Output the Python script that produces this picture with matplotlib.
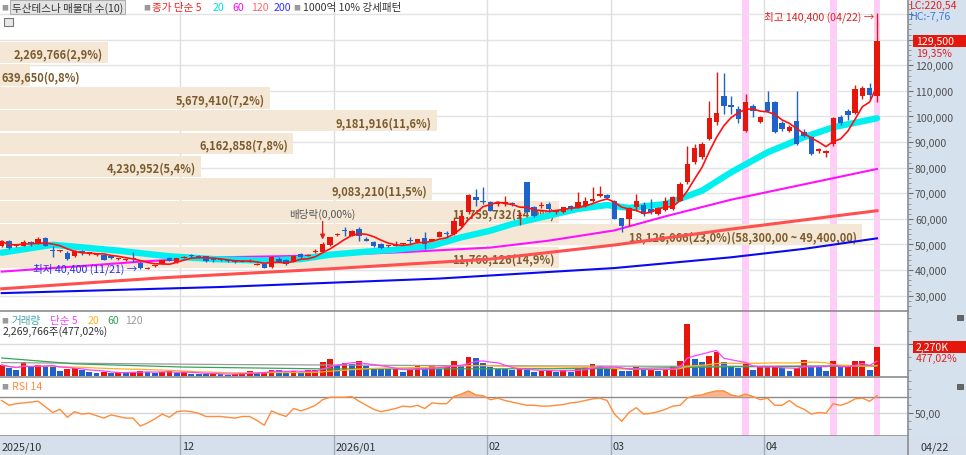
import numpy as np
import pandas as pd
import matplotlib
matplotlib.use("Agg")
import matplotlib.pyplot as plt
import matplotlib.transforms as mtransforms
from matplotlib.patches import Rectangle
from matplotlib.ticker import FixedLocator, MultipleLocator, FuncFormatter

plt.rcParams['font.family'] = ['Noto Sans CJK KR', 'DejaVu Sans']

# ---------------- data ----------------
holidays = ['2025-12-25', '2025-12-31', '2026-01-01', '2026-02-16',
            '2026-02-17', '2026-02-18', '2026-03-02']
trade_dates = pd.bdate_range('2025-10-27', '2026-04-22')
trade_dates = trade_dates[~trade_dates.isin(pd.to_datetime(holidays))]

open_ = [49300, 51500, 49500, 49500, 50700, 50200, 52400, 47700, 47700, 46700,
         45600, 47300, 46300, 46000, 45900, 45400, 44300, 43800, 44400, 42900,
         40700, 41500, 42400, 44600, 43000, 44900, 45700, 45600, 45400, 44000,
         44000, 43700, 43400, 43400, 43400, 42100, 42300, 41200, 44400, 44100,
         43300, 46300, 45700, 47100, 47200, 49800, 53800, 55600, 53500, 56000,
         52200, 50900, 50200, 49400, 49600, 50100, 51600, 51100, 52400, 51500,
         53100, 54200, 54100, 57300, 62600, 68400, 67100, 66500, 65700, 66300,
         66000, 61000, 74300, 64500, 65200, 65800, 62600, 62800, 64900, 64500,
         64900, 67100, 69100, 69300, 67100, 60200, 60000, 64500, 65400, 63900,
         61900, 63600, 63900, 67100, 74300, 82100, 84100, 91200, 98000, 107900,
         104500, 102900, 94500, 104200, 98000, 105500, 105500, 97500, 94500, 98400,
         93800, 91900, 86400, 85700, 89300, 99700, 102300, 101500, 107900, 111000,
         108000]
high = [51900, 51900, 50000, 51900, 51500, 53000, 52800, 49500, 48000, 47600,
        48000, 48000, 47000, 46700, 46300, 45800, 44900, 44400, 47200, 43100,
        41200, 42100, 44100, 45000, 44900, 45500, 46300, 45800, 45600, 44600,
        44400, 44200, 43900, 43800, 44200, 42600, 42600, 45500, 45000, 44400,
        46000, 46500, 46400, 48200, 50800, 53000, 54600, 56700, 55800, 56700,
        52800, 51300, 50500, 49900, 51500, 50600, 52800, 52300, 54800, 52200,
        55200, 55400, 60200, 62600, 69700, 71700, 72300, 67000, 66500, 69000,
        66600, 62500, 74400, 65000, 66500, 66700, 63500, 64800, 65300, 70400,
        68400, 72300, 73000, 69800, 67500, 60500, 64800, 69700, 66500, 67800,
        64500, 68400, 69000, 74300, 88600, 89300, 90000, 106200, 117300, 117000,
        108000, 104200, 108800, 104800, 100000, 110100, 106000, 98200, 96500, 110000,
        95000, 92500, 87800, 87000, 99800, 100600, 102900, 112300, 112000, 113000,
        140400]
low = [48900, 48200, 49200, 49300, 49500, 50000, 49300, 45000, 46900, 44000,
       45000, 46000, 46000, 45700, 44000, 44300, 44000, 43500, 43300, 40400,
       40500, 41300, 42200, 43400, 42800, 44700, 44600, 44900, 43300, 43300,
       43400, 43200, 42900, 43000, 43100, 41900, 40700, 41000, 43100, 42000,
       43000, 44800, 45500, 46800, 47000, 49500, 53300, 53400, 53200, 51500,
       51200, 49200, 48200, 49000, 49300, 49800, 50200, 50600, 48200, 51200,
       52800, 52800, 53800, 57000, 61800, 65200, 65800, 62900, 65000, 65200,
       65000, 57500, 62300, 60800, 64100, 62800, 62000, 62400, 63500, 64100,
       64600, 66500, 68400, 67800, 59900, 54700, 57400, 63200, 61300, 62000,
       61500, 63200, 63500, 66800, 73700, 81500, 83500, 90800, 96500, 101000,
       101000, 97500, 94000, 99700, 97500, 101800, 93500, 94500, 94000, 89000,
       92000, 84800, 85800, 84000, 88600, 96800, 98500, 100800, 107000, 107000,
       105500]
close = [51200, 48600, 49800, 51100, 50500, 52200, 49500, 47500, 47900, 44300,
         47600, 46500, 46900, 46600, 44100, 44600, 44700, 44200, 44300, 40900,
         40900, 42000, 44000, 43600, 44700, 45300, 45600, 45100, 43500, 43900,
         43900, 43600, 43300, 43200, 43600, 42300, 40900, 45000, 43300, 42300,
         45600, 45000, 45900, 47300, 50200, 52800, 54100, 55300, 55400, 53500,
         51500, 49600, 48500, 49600, 50200, 50300, 51400, 52000, 50200, 52100,
         54700, 54100, 59300, 61300, 69300, 67500, 66500, 63200, 66300, 66500,
         65700, 61300, 62600, 61300, 65500, 63900, 63200, 64500, 63900, 66500,
         67100, 67800, 69700, 68000, 60000, 57400, 64100, 67100, 61900, 62600,
         64100, 67100, 68400, 73600, 81400, 87600, 89300, 99300, 101400, 104200,
         103600, 99000, 105800, 102300, 99700, 102300, 93800, 95000, 95800, 89300,
         92500, 85400, 87300, 86600, 99300, 97500, 100600, 110700, 111000, 108500,
         129500]
volume = [860000, 630000, 500000, 1070000, 680000, 890000, 760000, 730000, 420000, 550000,
          600000, 500000, 290000, 230000, 340000, 230000, 290000, 230000, 340000, 420000,
          290000, 230000, 340000, 360000, 230000, 340000, 160000, 150000, 140000, 230000,
          160000, 80000, 160000, 230000, 420000, 230000, 340000, 500000, 470000, 230000,
          420000, 230000, 470000, 480000, 1070000, 1330000, 860000, 1000000, 940000, 1150000,
          810000, 580000, 550000, 520000, 550000, 340000, 550000, 810000, 550000, 810000,
          550000, 810000, 1200000, 810000, 1460000, 1410000, 1020000, 730000, 550000, 540000,
          500000, 520000, 470000, 340000, 420000, 450000, 340000, 500000, 340000, 600000,
          680000, 940000, 760000, 520000, 570000, 420000, 400000, 680000, 500000, 520000,
          420000, 450000, 810000, 1200000, 4100000, 1330000, 1120000, 1590000, 1850000, 1070000,
          730000, 600000, 1020000, 500000, 680000, 700000, 720000, 600000, 420000, 600000,
          1280000, 680000, 670000, 420000, 1200000, 680000, 700000, 1150000, 1180000, 475822,
          2269766]
rsi14 = [66, 60, 62, 63, 64, 65, 58, 51, 55, 45,
         52, 49, 50, 47, 44, 48, 46, 44, 44, 34,
         38, 43, 49, 45, 52, 53, 52, 50, 46, 46,
         46, 45, 44, 46, 46, 41, 35, 53, 49, 46,
         56, 53, 56, 60, 67, 70, 70, 70, 71, 65,
         60, 55, 52, 54, 56, 59, 58, 60, 56, 63,
         62, 62, 71, 74, 78, 73, 72, 67, 69, 66,
         64, 62, 60, 60, 59, 59, 60, 61, 63, 64,
         66, 68, 69, 66, 49, 40, 51, 57, 49, 50,
         52, 55, 59, 60, 69, 72, 73, 76, 78, 78,
         73, 71, 74, 71, 67, 69, 60, 60, 66, 59,
         55, 49, 51, 50, 62, 60, 63, 68, 69, 65,
         72]

# moving averages (candle index, value)
ma20_idx = [0, 7, 11, 16, 20, 23, 29, 36, 41, 45, 50, 54, 59, 63, 67, 70, 75, 79, 83, 86, 91, 96, 100, 105, 110, 114, 120]
ma20_val = [46800, 49900, 48900, 47600, 46300, 45400, 44300, 43700, 44300, 46000, 47200, 48000, 49500, 52800,
            55400, 58000, 61300, 63900, 65400, 64300, 65800, 71000, 78200, 86000, 91900, 95800, 99300]
ma60_idx = [0, 10, 20, 30, 40, 45, 55, 67, 75, 84, 91, 100, 110, 120]
ma60_val = [39400, 41400, 43500, 45000, 45500, 45900, 47000, 48800, 51500, 55500, 61000, 67500, 73500, 79500]
ma120_idx = [0, 22, 45, 67, 84, 100, 120]
ma120_val = [32700, 37000, 40500, 44300, 49800, 56000, 63200]
ma200_idx = [0, 30, 60, 84, 100, 110, 120]
ma200_val = [31000, 33400, 36700, 40800, 45000, 48300, 52400]
vma60_idx = [0, 10, 25, 45, 65, 85, 100, 120]
vma60_val = [1410000, 950000, 700000, 550000, 560000, 580000, 720000, 800000]
vma120_idx = [0, 30, 60, 90, 120]
vma120_val = [1050000, 900000, 820000, 760000, 780000]

# volume profile (10 bands, bottom to top)
vp_volume = [11760126, 18126066, 11759732, 9083210, 4230952, 6162858, 9181916, 5679410, 639650, 2269766]
vp_pct = [14.9, 23.0, 14.9, 11.5, 5.4, 7.8, 11.6, 7.2, 0.8, 2.9]
vp_low = 40500
vp_step = 8900

highlight_dates = ['2026-03-27', '2026-04-14', '2026-04-22']
dividend_date = '2025-12-29'
lc_text = 'LC:220,54'
hc_text = 'HC:-7,76'

# ---------------- helpers ----------------
RED = '#e5170d'
BLUE = '#1f62c8'
W, H = 966, 456
PX0, PXS = 1.7, 7.294          # candle 0 centre / spacing in pixels
PANEL_R = 908


def fmt_dec(v, nd):
    return f"{v:,.{nd}f}".replace('.', ',')


fig = plt.figure(figsize=(W / 100, H / 100), dpi=100)
fig.patch.set_facecolor('white')


def pax(x0, y0, x1, y1):
    return fig.add_axes([x0 / W, 1 - y1 / H, (x1 - x0) / W, (y1 - y0) / H])


def T(x, y, s, **kw):
    kw.setdefault('va', 'center')
    kw.setdefault('ha', 'left')
    kw.setdefault('fontsize', 7.6)
    return fig.text(x / W, 1 - y / H, s, **kw)


fig.add_artist(Rectangle((PANEL_R / W, 1 - 437 / H), (W - PANEL_R) / W, 437 / H,
                         transform=fig.transFigure, facecolor='#d6e1ee', edgecolor='none', zorder=-1))

N = len(close)
x = np.arange(N)
o = np.array(open_, float); h = np.array(high, float); l = np.array(low, float); c = np.array(close, float)
vol = np.array(volume, float)
dates_idx = {d.strftime('%Y-%m-%d'): i for i, d in enumerate(trade_dates)}
# month boundaries (the partial first month is labelled at the left edge only)
month_first = [i for i in range(10, N) if trade_dates[i].month != trade_dates[i - 1].month]
xlim = (-PX0 / PXS, (PANEL_R - PX0) / PXS)

ax = pax(0, 0, PANEL_R, 312)
axv = pax(0, 312, PANEL_R, 378)
axr = pax(0, 378, PANEL_R, 437)
axd = pax(0, 437, W, 456)

for a in (ax, axv, axr):
    a.set_xlim(*xlim)
    a.set_facecolor('white')
    a.patch.set_alpha(0)
    a.spines['left'].set_visible(False)
    a.spines['bottom'].set_visible(False)
    a.spines['top'].set_visible(a is not ax)
    for s in ('right', 'top'):
        a.spines[s].set_color('#8c8c8c')
        a.spines[s].set_linewidth(1.2)
    a.yaxis.tick_right()
    a.tick_params(axis='y', which='major', direction='out', length=3.5, width=0.8,
                  colors='#707070', labelcolor='#505050', labelsize=7.6, pad=1.5)
    a.tick_params(axis='y', which='minor', direction='out', length=2, width=0.6, colors='#8a8a8a')
    a.set_xticks([])
    for hd in highlight_dates:
        i = dates_idx[hd]
        a.axvspan(i - 0.46, i + 0.46, color='#ffcdf8', zorder=0.3, lw=0)
    for mf in month_first:
        a.axvline(mf - 0.5, color='#dedede', lw=1, zorder=0.5)
axr.spines['bottom'].set_visible(True)
axr.spines['bottom'].set_color('#8c8c8c')
axr.spines['bottom'].set_linewidth(1.2)

# ---------------- price panel ----------------
ax.set_ylim(24024, 145890)
ax.yaxis.set_major_locator(FixedLocator(list(range(30000, 150000, 10000))))
ax.yaxis.set_minor_locator(MultipleLocator(2000))
ax.yaxis.set_major_formatter(FuncFormatter(lambda v, p: f"{int(v):,}" if v <= 120000 else ''))
for yv in range(30000, 150000, 10000):
    ax.axhline(yv, color='#e3e3e3', lw=1, zorder=0.4)

# volume profile bars
trans = mtransforms.blended_transform_factory(ax.transAxes, ax.transData)
vmax = max(vp_volume)
imax = vp_volume.index(vmax)
for k, (vv, pp) in enumerate(zip(vp_volume, vp_pct)):
    lo = vp_low + k * vp_step
    frac = vv / vmax * 862 / PANEL_R
    ax.add_patch(Rectangle((0, lo + 250), frac, vp_step - 500, transform=trans,
                           facecolor='#f5e7d5', edgecolor='none', zorder=0.6))
    lab = f"{vv:,}({fmt_dec(pp, 1)}%)"
    if k == imax:
        lab += f"({fmt_dec(lo + vp_step, 2)} ~ {fmt_dec(lo, 2)})"
    if frac * PANEL_R < 100:
        ax.text(1 / PANEL_R, lo + vp_step / 2 - 700, lab, transform=trans, ha='left', va='center',
                fontsize=8, fontweight='bold', color='#7b5b2c', zorder=1)
    else:
        ax.text(frac - 5 / PANEL_R, lo + vp_step / 2 - 700, lab, transform=trans, ha='right', va='center',
                fontsize=8, fontweight='bold', color='#7b5b2c', zorder=1)

# moving averages
ma5 = pd.Series(c).rolling(5, min_periods=1).mean().values
ax.plot(ma200_idx, ma200_val, color='#0a0af0', lw=1.5, zorder=2)
ax.plot(ma120_idx, ma120_val, color='#ff4f4f', lw=2.2, zorder=2)
ax.plot(ma60_idx, ma60_val, color='#ff10ff', lw=1.5, zorder=2)
ax.plot(ma20_idx, ma20_val, color='#00f0f0', lw=4.6, zorder=2.5, solid_capstyle='round')

# candles
up = c >= o
col = np.where(up, RED, BLUE)
ax.vlines(x, l, h, colors=col, lw=1, zorder=3)
body = np.abs(c - o)
bh = np.maximum(body, 400)
bb = np.minimum(o, c) - (bh - body) / 2
ax.bar(x, bh, bottom=bb, width=0.74, color=col, lw=0, zorder=3.1)
ax.plot(x, ma5, color='#ff1010', lw=1.2, zorder=4)

# annotations
ihi = int(np.argmax(h)); ilo = int(np.argmin(l))
ax.annotate(f"최고 {int(h[ihi]):,} ({trade_dates[ihi].strftime('%m/%d')}) →", xy=(ihi, h[ihi]),
            xytext=(-3, -3), textcoords='offset pixels', ha='right', va='center',
            fontsize=7.6, color='#e02020', zorder=6)
ax.annotate(f"최저 {int(l[ilo]):,} ({trade_dates[ilo].strftime('%m/%d')}) →", xy=(ilo, l[ilo]),
            xytext=(-3, 1), textcoords='offset pixels', ha='right', va='center',
            fontsize=7.6, color='#2a2ae6', zorder=6)
idv = dates_idx[dividend_date]
ax.annotate("배당락(0,00%)", xy=(idv, h[idv]), xytext=(0, 29), textcoords='offset pixels',
            ha='center', va='center', fontsize=7.6, color='#555555', zorder=6)
ax.annotate("", xy=(idv, h[idv]), xytext=(0, 21), textcoords='offset pixels',
            arrowprops=dict(arrowstyle='-|>', color='#e02020', lw=1, shrinkA=0, shrinkB=2,
                            mutation_scale=7), zorder=6)

# ---------------- volume panel ----------------
axv.set_ylim(-78000, 5086000)
vcol = [RED] + [RED if vol[i] >= vol[i - 1] else BLUE for i in range(1, N)]
axv.bar(x, vol, width=0.8, color=vcol, lw=0, zorder=2)
vma5 = pd.Series(vol).rolling(5, min_periods=1).mean().values
vma20 = pd.Series(vol).rolling(20, min_periods=1).mean().values
axv.plot(vma120_idx, vma120_val, color='#9a9a9a', lw=0.9, zorder=3)
axv.plot(vma60_idx, vma60_val, color='#35a555', lw=0.9, zorder=3)
axv.plot(x, vma20, color='#ffb020', lw=0.9, zorder=3)
axv.plot(x, vma5, color='#ff40ff', lw=0.9, zorder=3)
axv.axhline(2500000, color='#dcdcdc', lw=1, zorder=0.4)
axv.yaxis.set_major_locator(FixedLocator([2500000]))
axv.yaxis.set_minor_locator(FixedLocator([500000, 1500000, 3500000, 4500000]))
axv.yaxis.set_major_formatter(FuncFormatter(lambda v, p: f"{int(v / 1000):,}K"))

# ---------------- RSI panel ----------------
axr.set_ylim(21.6, 95.4)
rs = np.array(rsi14, float)
axr.axhline(70, color='#8c8c8c', lw=1, zorder=0.6)
axr.axhline(50, color='#d6d6d6', lw=1, zorder=0.4)
axr.fill_between(x, rs, 70, where=rs > 70, interpolate=True, color='#f6b58c', lw=0, zorder=1)
axr.plot(x, rs, color='#ff8c3a', lw=1.0, zorder=2)
axr.yaxis.set_major_locator(FixedLocator([50]))
axr.yaxis.set_minor_locator(MultipleLocator(10))
axr.yaxis.set_major_formatter(FuncFormatter(lambda v, p: fmt_dec(v, 2)))

# ---------------- date strip ----------------
axd.set_xlim(-PX0 / PXS, (W - PX0) / PXS)
axd.set_ylim(0, 1)
axd.set_facecolor('#d5e0ec')
axd.set_xticks([]); axd.set_yticks([])
for s in axd.spines.values():
    s.set_visible(False)
labels = [trade_dates[0].strftime('%Y/%m')]
pos = [xlim[0]]
for mf in month_first:
    d = trade_dates[mf]
    labels.append(d.strftime('%Y/%m') if d.month == 1 else d.strftime('%m'))
    pos.append(mf - 0.5)
    axd.axvline(mf - 0.5, color='#a0acba', lw=1)
for p, s in zip(pos, labels):
    axd.text(p + 0.25, 0.45, s, ha='left', va='center', fontsize=7.8, color='#333333')
axd.axvline(xlim[1], color='#8c8c8c', lw=1.2)
axd.text(((935 - PX0) / PXS), 0.45, trade_dates[-1].strftime('%m/%d'), ha='center', va='center',
         fontsize=7.8, color='#333333')

# ---------------- header texts ----------------
T(1, 8, '■', color='#9a9a9a', fontsize=5)
T(12, 8, '두산테스나 매물대 수(10)', color='#333333',
  bbox=dict(boxstyle='square,pad=0.18', fc='#e4e4e4', ec='#b0b0b0', lw=0.8))
T(143, 8, '■', color='#9a9a9a', fontsize=5)
T(152, 8, '종가 단순 5', color='#ff2020')
T(213, 8, '20', color='#00dede')
T(232, 8, '60', color='#ff00ff')
T(251, 8, '120', color='#ff6a6a')
T(274, 8, '200', color='#3030ff')
T(293, 8, '■', color='#9a9a9a', fontsize=5)
T(303, 8, '1000억 10% 강세패턴', color='#333333')
fig.add_artist(Rectangle((4 / W, 1 - 27 / H), 9 / W, 8 / H, transform=fig.transFigure,
                         facecolor='#e8e8e8', edgecolor='#777777', lw=0.8, zorder=5))

T(1, 321, '■', color='#9a9a9a', fontsize=5)
T(12, 321, '거래량', color='#3ea5ad')
T(50, 321, '단순 5', color='#ff40ff')
T(88, 321, '20', color='#ffae20')
T(107, 321, '60', color='#30a050')
T(125, 321, '120', color='#9a9a9a')
T(3, 332, f"{int(vol[-1]):,}주({fmt_dec(vol[-1] / vol[-2] * 100, 2)}%)", color='#333333')
T(1, 387, '■', color='#9a9a9a', fontsize=5)
T(12, 387, 'RSI 14', color='#ff8c3a')

# right panel value tags
T(910, 6, lc_text, color='#e02020', zorder=6)
T(910, 17, hc_text, color='#3a78d8', zorder=6)
yd = ax.transData.transform((0, c[-1]))[1]
fig.add_artist(Rectangle((913 / W, (yd - 6) / H), 53 / W, 12 / H, transform=fig.transFigure,
                         facecolor=RED, edgecolor='none', zorder=5))
T(916, H - yd, f"{int(c[-1]):,}", color='white', zorder=6)
T(916, H - yd + 12, f"{fmt_dec((c[-1] / c[-2] - 1) * 100, 2)}%", color='#e02020', zorder=6)
yv = axv.transData.transform((0, vol[-1]))[1]
fig.add_artist(Rectangle((913 / W, (yv - 6) / H), 53 / W, 12 / H, transform=fig.transFigure,
                         facecolor=RED, edgecolor='none', zorder=5))
T(916, H - yv, f"{int(round(vol[-1] / 1000)):,}K", color='white', zorder=6)
T(916, H - yv + 11, f"{fmt_dec(vol[-1] / vol[-2] * 100, 2)}%", color='#e02020', zorder=6)
for yy in (318, 387):
    fig.add_artist(Rectangle((957 / W, 1 - (yy + 2.5) / H), 6 / W, 5 / H, transform=fig.transFigure,
                             facecolor='#666666', edgecolor='#444444', lw=0.5, zorder=5))

fig.savefig('out.png', dpi=100)
